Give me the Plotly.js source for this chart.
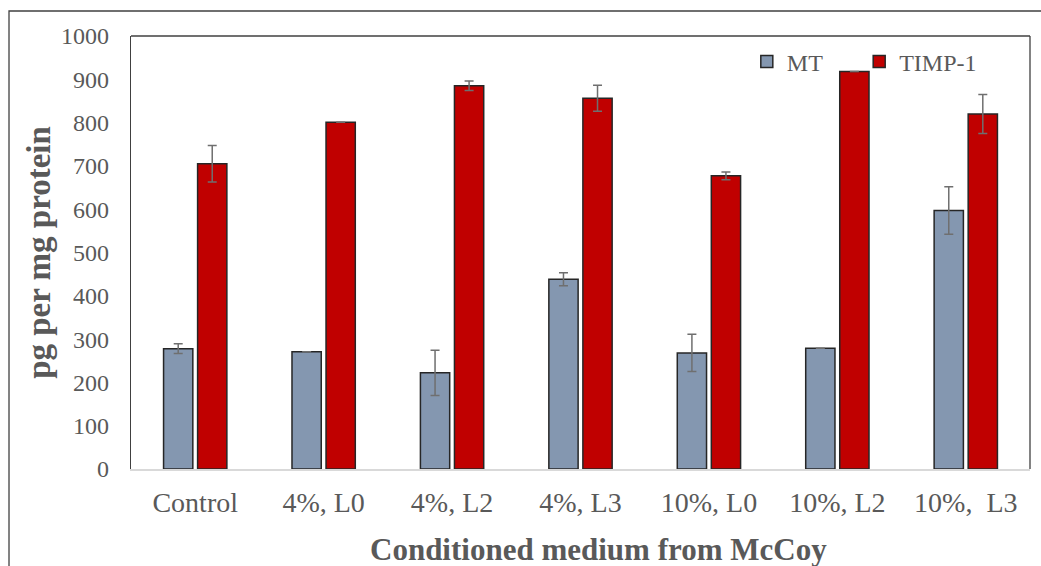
<!DOCTYPE html>
<html>
<head>
<meta charset="utf-8">
<script src="https://cdn.plot.ly/plotly-3.0.1.min.js"></script>
<style>
  html, body { margin: 0; padding: 0; background: #fff; }
  #chart { width: 1041px; height: 566px; }
</style>
</head>
<body>
<div id="chart"></div>
<script>
const categories = ["Control", "4%, L0", "4%, L2", "4%, L3", "10%, L0", "10%, L2", "10%,  L3"];
const mtValues = [278, 271, 222, 438, 268, 279, 597];
const mtErrors = [11, null, 52, 15, 43, null, 55];
const timpValues = [705, 801, 885, 856, 677, 918, 820];
const timpErrors = [42, null, 11, 30, 9, null, 45];
const yTicks = [0, 100, 200, 300, 400, 500, 600, 700, 800, 900, 1000];
const xTitle = "Conditioned medium from McCoy";
const yTitle = "pg per mg protein";

const serif = "Liberation Serif, Times New Roman, serif";

const traces = [
  {
    type: "bar", name: "MT", x: categories, y: mtValues, legend: "legend",
    marker: { color: "#8497b0", line: { color: "#262626", width: 1.5 } },
    error_y: { type: "data", array: mtErrors, visible: true, color: "#6f6f6f", thickness: 1.5, width: 4.5 }
  },
  {
    type: "bar", name: "TIMP-1", x: categories, y: timpValues, legend: "legend2",
    marker: { color: "#c00000", line: { color: "#262626", width: 1.5 } },
    error_y: { type: "data", array: timpErrors, visible: true, color: "#6f6f6f", thickness: 1.5, width: 4.5 }
  }
];

const legendFont = { family: serif, size: 24, color: "#595959" };

const layout = {
  width: 1041, height: 566,
  margin: { l: 131, r: 11, t: 36, b: 97 },
  paper_bgcolor: "#fff", plot_bgcolor: "#fff",
  barmode: "group", bargap: 0.47, bargroupgap: 0.14,
  showlegend: true,
  legend: {
    orientation: "h", x: 0.685, y: 0.94, xanchor: "left", yanchor: "middle",
    font: legendFont, itemwidth: 30, bgcolor: "rgba(0,0,0,0)"
  },
  legend2: {
    orientation: "h", x: 0.81, y: 0.94, xanchor: "left", yanchor: "middle",
    font: legendFont, itemwidth: 30, bgcolor: "rgba(0,0,0,0)"
  },
  xaxis: {
    type: "category",
    showline: true, linecolor: "#d9d9d9", linewidth: 1.5,
    ticks: "", showgrid: false, zeroline: false,
    tickfont: { family: serif, size: 28, color: "#595959" },
    ticklabelstandoff: 8
  },
  yaxis: {
    range: [0, 1000], tickvals: yTicks, ticktext: yTicks.map(String),
    showline: true, linecolor: "#404040", linewidth: 1.3,
    ticks: "", showgrid: false, zeroline: false,
    tickfont: { family: serif, size: 24, color: "#595959" },
    ticklabelstandoff: 16,
    title: { text: "<b>" + yTitle + "</b>", font: { family: serif, size: 33, color: "#595959" }, standoff: 0 }
  },
  annotations: [
    { text: "<b>" + xTitle + "</b>", xref: "paper", yref: "paper", x: 0.52, y: -0.187,
      xanchor: "center", yanchor: "middle", showarrow: false,
      font: { family: serif, size: 31, color: "#595959" } }
  ],
  shapes: [
    { type: "line", xref: "paper", yref: "paper", x0: 0, x1: 1, y0: 1, y1: 1, line: { color: "#404040", width: 1.3 } },
    { type: "line", xref: "paper", yref: "paper", x0: 1, x1: 1, y0: 0, y1: 1, line: { color: "#404040", width: 1.3 } },
    { type: "rect", xref: "paper", yref: "paper", x0: -0.1357, x1: 1.03, y0: -0.25, y1: 1.0577, line: { color: "#404040", width: 1.3 }, fillcolor: "rgba(0,0,0,0)" }
  ]
};

Plotly.newPlot("chart", traces, layout, { displayModeBar: false, staticPlot: true });
</script>
</body>
</html>
